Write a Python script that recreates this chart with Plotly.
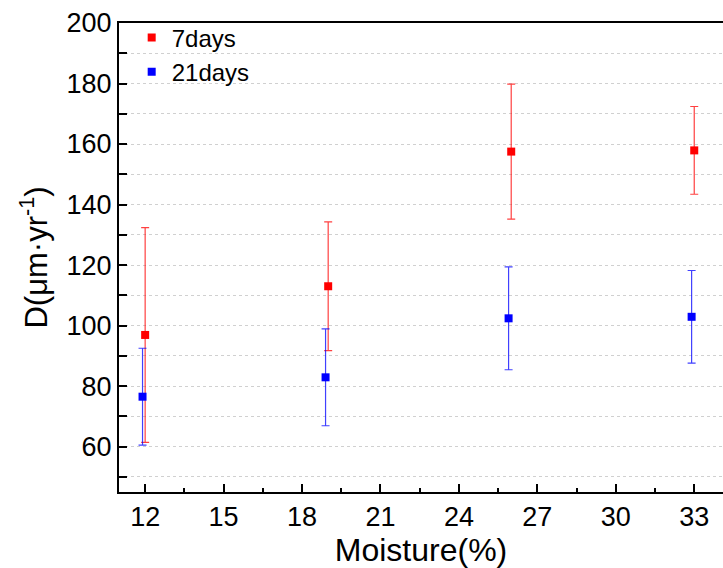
import plotly.graph_objects as go

# moisture (%) and D values
moisture_7 = [12, 19, 26, 33]
d_7days = [96.9, 113.0, 157.5, 157.9]
err_7days = [35.5, 21.3, 22.3, 14.5]

moisture_21 = [11.9, 18.9, 25.9, 32.9]
d_21days = [76.5, 82.9, 102.4, 102.9]
err_21days = [16.0, 16.0, 17.0, 15.3]

FONT = "Arial, Liberation Sans, sans-serif"

fig = go.Figure()
fig.add_trace(go.Scatter(
    x=moisture_7, y=d_7days, mode="markers", name="7days",
    marker=dict(symbol="square", size=8, color="#ff0000"),
    error_y=dict(type="data", array=err_7days, visible=True,
                 color="rgba(255,0,0,0.75)", thickness=1.2, width=4)))
fig.add_trace(go.Scatter(
    x=moisture_21, y=d_21days, mode="markers", name="21days",
    marker=dict(symbol="square", size=8, color="#0000ff"),
    error_y=dict(type="data", array=err_21days, visible=True,
                 color="rgba(0,0,255,0.75)", thickness=1.2, width=4)))

fig.update_layout(
    width=723, height=568,
    margin=dict(l=119, r=0, t=23, b=76),
    plot_bgcolor="white", paper_bgcolor="white",
    font=dict(family=FONT, color="black"),
    showlegend=True,
    legend=dict(x=0.021, y=1.016, xanchor="left", yanchor="top",
                bgcolor="rgba(0,0,0,0)", font=dict(size=24),
                tracegroupgap=0, itemwidth=30),
    xaxis=dict(
        range=[11, 34.1], tick0=12, dtick=3, automargin=False,
        showline=True, linecolor="black", linewidth=2, mirror=True,
        ticks="inside", ticklen=8, tickwidth=1.5, tickcolor="black",
        minor=dict(dtick=1.5, ticks="inside", ticklen=4, tickcolor="black"),
        showgrid=False, zeroline=False,
        tickfont=dict(size=27),
        title=dict(text="Moisture(%)", font=dict(size=32), standoff=2),
    ),
    yaxis=dict(
        range=[45, 200], tick0=0, dtick=20, automargin=False,
        showline=True, linecolor="black", linewidth=2,
        ticks="inside", ticklen=8, tickwidth=1.5, tickcolor="black",
        showgrid=True, gridcolor="#d0d0d0", griddash="dot", gridwidth=1,
        minor=dict(dtick=10, ticks="inside", ticklen=8, tickcolor="black",
                   showgrid=True, gridcolor="#d0d0d0", griddash="dot"),
        zeroline=False,
        tickfont=dict(size=27),
        title=dict(text="D(μm·yr<sup>-1</sup>)", font=dict(size=31), standoff=10),
    ),
)

# drop the page's default body margin so the figure fills the window
fig.write_html("out.html", config={"displayModeBar": False},
               post_script="document.body.style.margin='0';")
